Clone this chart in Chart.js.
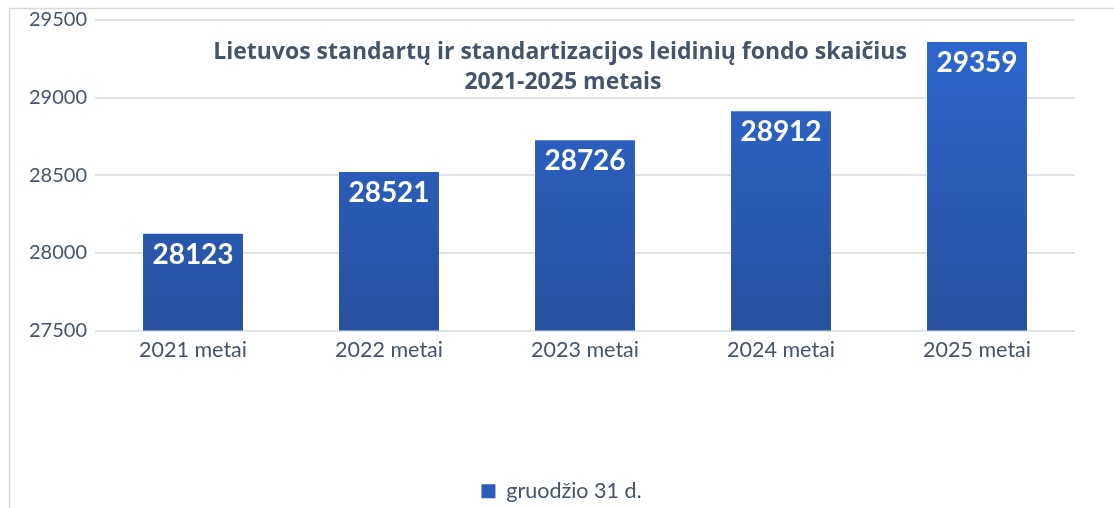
<!DOCTYPE html>
<html>
<head>
<meta charset="utf-8">
<script src="https://cdn.jsdelivr.net/npm/chart.js@4/dist/chart.umd.min.js"></script>
<style>
html,body{margin:0;padding:0;background:#fff;}
#wrap{position:relative;width:1114px;height:508px;}
</style>
</head>
<body>
<div id="wrap"><canvas id="c" width="1114" height="508"></canvas></div>
<script>
const categories = ["2021 metai", "2022 metai", "2023 metai", "2024 metai", "2025 metai"];
const values = [28123, 28521, 28726, 28912, 29359];
const seriesName = "gruodžio 31 d.";
const titleLines = ["Lietuvos standartų ir standartizacijos leidinių fondo skaičius", "2021-2025 metais"];
const yTicks = [27500, 28000, 28500, 29000, 29500];

const FONT = "Lato, 'Open Sans', sans-serif";
const TFONT = "'Open Sans', Lato, sans-serif";
const TEXT = "#44546A";

function barGradient(ctx){
  const chart = ctx.chart;
  const area = chart.chartArea;
  if(!area) return "#2B5CB8";
  const g = chart.ctx.createLinearGradient(0, area.top, 0, area.bottom);
  g.addColorStop(0, "#2E68D1");
  g.addColorStop(1, "#27509E");
  return g;
}

const framePlugin = {
  id: "frame",
  beforeDraw(chart){
    const c = chart.ctx;
    c.save();
    c.fillStyle = "#fff";
    c.fillRect(0,0,chart.width,chart.height);
    c.strokeStyle = "#D9D9D9";
    c.lineWidth = 1.5;
    c.strokeRect(9.5, 8.5, chart.width + 20, chart.height + 20);
    c.restore();
  }
};

const legendShift = {
  id: "legendShift",
  afterLayout(chart){
    if(chart.legend){ chart.legend.left += 24; chart.legend.right += 24; }
  }
};

const labelPlugin = {
  id: "valueLabels",
  afterDatasetsDraw(chart){
    const c = chart.ctx;
    const meta = chart.getDatasetMeta(0);
    c.save();
    c.fillStyle = "#FFFFFF";
    c.font = "bold 28px " + FONT;
    c.textAlign = "center";
    c.textBaseline = "middle";
    meta.data.forEach((bar, i) => {
      c.fillText(String(values[i]), bar.x, bar.y + 21);
    });
    c.restore();
  }
};

const titlePlugin = {
  id: "overlayTitle",
  afterDraw(chart){
    const c = chart.ctx;
    c.save();
    c.fillStyle = TEXT;
    c.font = "bold 23px " + TFONT;
    c.textAlign = "center";
    c.textBaseline = "middle";
    c.fillText(titleLines[0], 560, 52);
    c.fillText(titleLines[1], 563, 82);
    c.restore();
  }
};

new Chart(document.getElementById("c"), {
  type: "bar",
  data: {
    labels: categories,
    datasets: [{
      label: seriesName,
      data: values,
      backgroundColor: barGradient,
      borderWidth: 0,
      barPercentage: 0.51,
      categoryPercentage: 1.0
    }]
  },
  options: {
    responsive: false,
    animation: false,
    devicePixelRatio: 1,
    layout: { padding: { left: 0, right: 39, top: 20, bottom: -4 } },
    scales: {
      y: {
        min: 27500,
        max: 29500,
        afterFit(axis){ axis.width = 95; },
        afterBuildTicks(axis){ axis.ticks = yTicks.map(v => ({value: v})); },
        border: { display: false },
        grid: { color: "#DDE2E8", lineWidth: 2, drawTicks: false },
        ticks: { color: TEXT, font: { family: FONT, size: 20 }, padding: 8, callback: v => String(v) }
      },
      x: {
        afterFit(axis){ axis.height = 146; },
        border: { display: false },
        grid: { display: false, drawTicks: false },
        ticks: { color: TEXT, font: { family: FONT, size: 21.5 }, padding: 7 }
      }
    },
    plugins: {
      legend: {
        position: "bottom",
        labels: {
          color: TEXT,
          font: { family: FONT, size: 21.5 },
          boxWidth: 14,
          boxHeight: 14,
          padding: 4,
          generateLabels(chart){
            return [{ text: seriesName, fillStyle: "#2B5CB8", strokeStyle: "#2B5CB8", lineWidth: 0, fontColor: TEXT, datasetIndex: 0 }];
          }
        }
      },
      title: { display: false },
      tooltip: { enabled: false }
    }
  },
  plugins: [framePlugin, legendShift, labelPlugin, titlePlugin]
});
</script>
</body>
</html>
